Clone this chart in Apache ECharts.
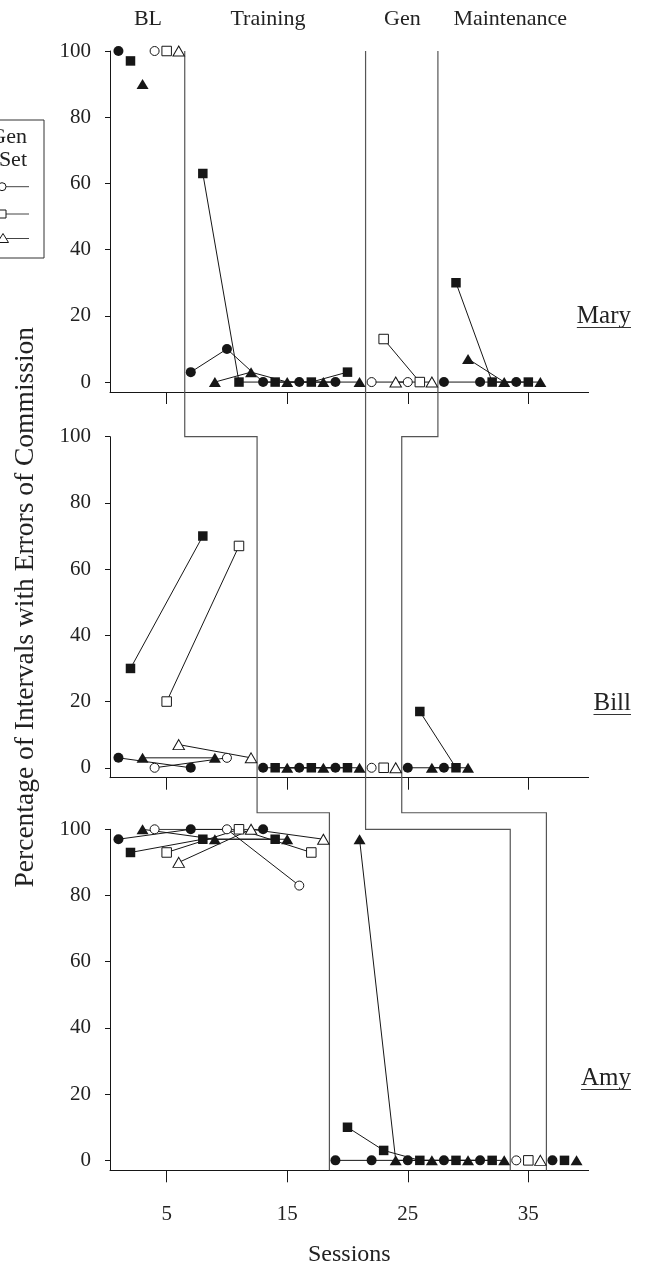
<!DOCTYPE html>
<html><head><meta charset="utf-8">
<script src="https://cdn.jsdelivr.net/npm/echarts@6/dist/echarts.min.js"></script>
<style>html,body{margin:0;padding:0;background:#fff}#c{width:646px;height:1272px}</style>
</head><body><div id="c"></div>
<script>
const FONT = "'Liberation Serif','Times New Roman',serif";
const INK = '#161616';

// ---- labels / ticks ----
const participants = ['Mary', 'Bill', 'Amy'];
const phaseNames = ['BL', 'Training', 'Gen', 'Maintenance'];
const phaseLabelSessions = [3.45, 13.4, 24.55, 33.5];
const xTicks = [5, 15, 25, 35];
const yTicks = [0, 20, 40, 60, 80, 100];
const legendTitle = ['Gen', 'Set'];

// ---- data: [session, % intervals]; null = phase break ----
const maryCircleFilled   = [[1,100], null, [7,3],[10,10],[13,0],[16,0],[19,0], null, [28,0],[31,0],[34,0]];
const marySquareFilled   = [[2,97], null, [8,63],[11,0],[14,0],[17,0],[20,3], null, [29,30],[32,0],[35,0]];
const maryTriangleFilled = [[3,90], null, [9,0],[12,3],[15,0],[18,0],[21,0], null, [30,7],[33,0],[36,0]];
const maryCircleOpen     = [[4,100], null, [22,0],[25,0]];
const marySquareOpen     = [[5,100], null, [23,13],[26,0]];
const maryTriangleOpen   = [[6,100], null, [24,0],[27,0]];

const billCircleFilled   = [[1,3],[7,0], null, [13,0],[16,0],[19,0], null, [25,0],[28,0]];
const billSquareFilled   = [[2,30],[8,70], null, [14,0],[17,0],[20,0], null, [26,17],[29,0]];
const billTriangleFilled = [[3,3],[9,3], null, [15,0],[18,0],[21,0], null, [27,0],[30,0]];
const billCircleOpen     = [[4,0],[10,3], null, [22,0]];
const billSquareOpen     = [[5,20],[11,67], null, [23,0]];
const billTriangleOpen   = [[6,7],[12,3], null, [24,0]];

const amyCircleFilled    = [[1,97],[7,100],[13,100], null, [19,0],[22,0],[25,0],[28,0],[31,0], null, [37,0]];
const amySquareFilled    = [[2,93],[8,97],[14,97], null, [20,10],[23,3],[26,0],[29,0],[32,0], null, [38,0]];
const amyTriangleFilled  = [[3,100],[9,97],[15,97], null, [21,97],[24,0],[27,0],[30,0],[33,0], null, [39,0]];
const amyCircleOpen      = [[4,100],[10,100],[16,83], null, [34,0]];
const amySquareOpen      = [[5,93],[11,100],[17,93], null, [35,0]];
const amyTriangleOpen    = [[6,90],[12,100],[18,97], null, [36,0]];

// phase-change lines: [session, panelIndex, value]
const phaseLineBLTraining = [[6.5,0,100],[6.5,1,100],[12.5,1,100],[12.5,2,105],[18.5,2,105],[18.5,2,-3]];
const phaseLineTrainingGen = [[21.5,0,100],[21.5,2,100],[33.5,2,100],[33.5,2,-3]];
const phaseLineGenMaint = [[27.5,0,100],[27.5,1,100],[24.5,1,100],[24.5,2,105],[36.5,2,105],[36.5,2,-3]];

// ---- layout ----
const gridTops = [51, 436.7, 829.3];
const gridHeight = 341;
const gridLeft = 110, gridRight = 57.4;

const panels = [
  [[maryCircleFilled,'circle',true],[marySquareFilled,'rect',true],[maryTriangleFilled,'triangle',true],
   [maryCircleOpen,'circle',false],[marySquareOpen,'rect',false],[maryTriangleOpen,'triangle',false]],
  [[billCircleFilled,'circle',true],[billSquareFilled,'rect',true],[billTriangleFilled,'triangle',true],
   [billCircleOpen,'circle',false],[billSquareOpen,'rect',false],[billTriangleOpen,'triangle',false]],
  [[amyCircleFilled,'circle',true],[amySquareFilled,'rect',true],[amyTriangleFilled,'triangle',true],
   [amyCircleOpen,'circle',false],[amySquareOpen,'rect',false],[amyTriangleOpen,'triangle',false]]
];

const symSize = { circle: [10, 10], rect: [9.5, 9.5], triangle: [12, 10] };
const symSizeOpen = { circle: [9, 9], rect: [9.5, 9.5], triangle: [11.5, 10] };

function segments(arr) {
  const out = []; let cur = [];
  arr.forEach(p => { if (p === null) { if (cur.length) out.push(cur); cur = []; } else cur.push(p); });
  if (cur.length) out.push(cur);
  return out;
}

const grids = [], xAxes = [], yAxes = [], series = [];
gridTops.forEach((top, i) => {
  grids.push({ left: gridLeft, right: gridRight, top: top, height: gridHeight });
  const isLast = i === gridTops.length - 1;
  xAxes.push({
    type: 'value', gridIndex: i, min: 0.3, max: 40,
    axisLine: { show: true, onZero: false, lineStyle: { color: INK, width: 1 } },
    axisTick: { show: true, inside: false, length: 12, customValues: xTicks, lineStyle: { color: INK } },
    axisLabel: { show: isLast, customValues: xTicks, margin: 34, fontFamily: FONT, fontSize: 21, color: '#222' },
    splitLine: { show: false },
    name: isLast ? 'Sessions' : '', nameLocation: 'middle', nameGap: 72,
    nameTextStyle: { fontFamily: FONT, fontSize: 24, color: '#222' }
  });
  yAxes.push({
    type: 'value', gridIndex: i, min: -3, max: 100,
    axisLine: { show: true, onZero: false, lineStyle: { color: INK, width: 1 } },
    axisTick: { show: true, inside: false, length: 5, customValues: yTicks, lineStyle: { color: INK } },
    axisLabel: { customValues: yTicks, margin: 19, fontFamily: FONT, fontSize: 21, color: '#222' },
    splitLine: { show: false },
    name: i === 1 ? 'Percentage of Intervals with Errors of Commission' : '',
    nameLocation: 'middle', nameGap: 70, nameRotate: 90,
    nameTextStyle: { fontFamily: FONT, fontSize: 27.5, color: '#222' }
  });
  panels[i].forEach(([arr, shape, filled]) => {
    segments(arr).forEach(seg => {
      series.push({
        type: 'line', xAxisIndex: i, yAxisIndex: i, data: seg,
        symbol: shape, symbolSize: filled ? symSize[shape] : symSizeOpen[shape],
        showSymbol: true, showAllSymbol: true, silent: true, animation: false,
        lineStyle: { color: INK, width: 1 },
        itemStyle: filled ? { color: INK, borderWidth: 0 } : { color: '#fff', borderColor: INK, borderWidth: 1 },
        emphasis: { disabled: true },
        z: filled ? 3 : 4
      });
    });
  });
});

const chart = echarts.init(document.getElementById('c'), null, { renderer: 'canvas' });
chart.setOption({
  backgroundColor: '#fff',
  animation: false,
  grid: grids, xAxis: xAxes, yAxis: yAxes, series: series
});

// ---- overlay graphics ----
const g = [];
[phaseLineBLTraining, phaseLineTrainingGen, phaseLineGenMaint].forEach(line => {
  const pts = line.map(([s, p, v]) => chart.convertToPixel({ gridIndex: p }, [s, v]));
  g.push({ type: 'polyline', shape: { points: pts }, style: { stroke: '#555', lineWidth: 1.2, fill: null }, z: 1, silent: true });
});

phaseNames.forEach((name, k) => {
  const px = chart.convertToPixel({ gridIndex: 0 }, [phaseLabelSessions[k], 0])[0];
  g.push({ type: 'text', x: px, y: 19, style: { text: name, font: '22px ' + FONT, fill: '#222', align: 'center', verticalAlign: 'middle' } });
});

const ctx = document.createElement('canvas').getContext('2d');
const nameFont = '25px ' + FONT;
ctx.font = nameFont;
const nameY = [316, 703, 1078];
participants.forEach((n, i) => {
  const w = ctx.measureText(n).width;
  const rx = 631;
  g.push({ type: 'text', x: rx, y: nameY[i], style: { text: n, font: nameFont, fill: '#222', align: 'right', verticalAlign: 'middle' } });
  g.push({ type: 'line', shape: { x1: rx - w, y1: nameY[i] + 11.5, x2: rx, y2: nameY[i] + 11.5 }, style: { stroke: '#333', lineWidth: 1.2 } });
});

// legend box (partially off-page as in the reference)
g.push({ type: 'rect', shape: { x: -40, y: 120, width: 84, height: 138 }, style: { fill: null, stroke: '#333', lineWidth: 1 } });
g.push({ type: 'text', x: 27, y: 137, style: { text: legendTitle[0], font: '22px ' + FONT, fill: '#222', align: 'right', verticalAlign: 'middle' } });
g.push({ type: 'text', x: 27, y: 160, style: { text: legendTitle[1], font: '22px ' + FONT, fill: '#222', align: 'right', verticalAlign: 'middle' } });
const rowsY = [186.7, 214, 238.5];
rowsY.forEach((y) => {
  g.push({ type: 'line', shape: { x1: 2, y1: y, x2: 29, y2: y }, style: { stroke: '#444', lineWidth: 1 } });
});
g.push({ type: 'circle', shape: { cx: 2, cy: rowsY[0], r: 4 }, style: { fill: '#fff', stroke: INK, lineWidth: 1 } });
g.push({ type: 'rect', shape: { x: -2, y: rowsY[1] - 4, width: 8, height: 8 }, style: { fill: '#fff', stroke: INK, lineWidth: 1 } });
g.push({ type: 'polygon', shape: { points: [[3, rowsY[2] - 5], [8.5, rowsY[2] + 4], [-2.5, rowsY[2] + 4]] }, style: { fill: '#fff', stroke: INK, lineWidth: 1 } });

chart.setOption({ graphic: { elements: g } });
</script>
</body></html>
